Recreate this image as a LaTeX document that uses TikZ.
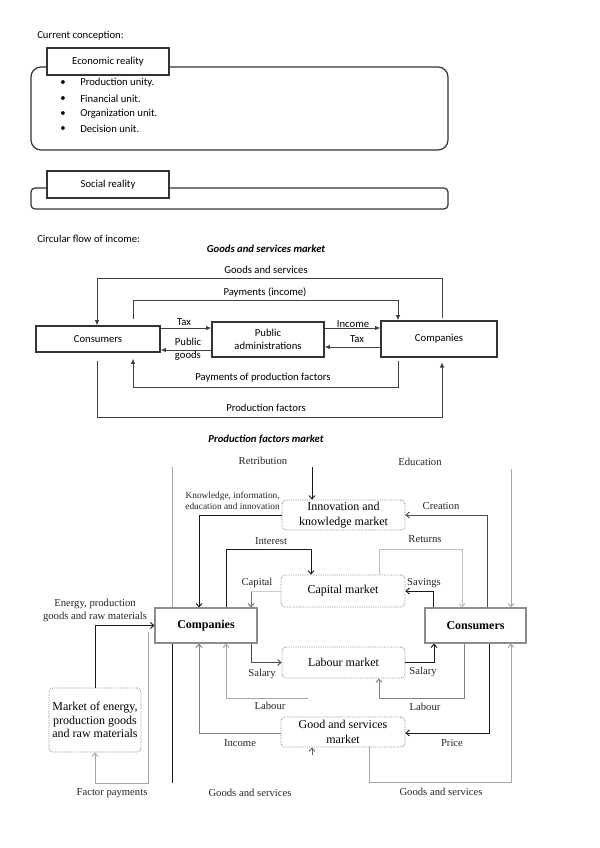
\documentclass[tikz,border=0pt]{standalone}
\usepackage{fontspec}
\setmainfont{Liberation Serif}
\newfontfamily\calib{Carlito}
\usetikzlibrary{arrows.meta}
\begin{document}
\begin{tikzpicture}[x=0.75pt,y=-0.75pt,
  ctext/.style={font=\calib\fontsize{8}{9.6}\selectfont, inner sep=0pt},
  ctitle/.style={font=\calib\bfseries\itshape\fontsize{8}{9.6}\selectfont, inner sep=0pt},
  cbox/.style={draw=black!80, line width=0.9pt, fill=white, font=\calib\fontsize{8}{9.6}\selectfont, inner sep=0pt, align=center},
  frame/.style={draw=black!80, line width=0.9pt},
  carr/.style={draw=black!75, line width=0.75pt, -{Latex[length=4pt,width=3.5pt]}},
  tlab/.style={font=\fontsize{8}{9.4}\selectfont, inner sep=0pt, text=black!85},
  klab/.style={font=\fontsize{7}{8.6}\selectfont, inner sep=0pt, text=black!85, align=right},
  tbox/.style={draw=black!45, line width=0.8pt, fill=white, font=\bfseries\fontsize{9}{11}\selectfont, inner sep=0pt},
  mbox/.style={draw=black!45, dash pattern=on 0.8pt off 0.9pt, line width=0.6pt, rounded corners=3pt, font=\fontsize{9}{11}\selectfont, align=center, inner sep=0pt},
  darr/.style={draw=black!90, line width=0.7pt, -{Straight Barb[length=2.5pt,width=4.5pt]}},
  garr/.style={draw=black!35, line width=0.7pt, -{Straight Barb[length=2.5pt,width=4.5pt]}},
  dline/.style={draw=black!90, line width=0.7pt},
  gline/.style={draw=black!35, line width=0.7pt}
]
\fill[white] (0,0) rectangle (599,848);
\useasboundingbox (0,0) rectangle (599,848);

% ---------- Current conception ----------
\node[ctext, anchor=west] (cc) at (37,36) {Current conception:};
\draw[frame, rounded corners=7.5pt] (31,67) rectangle (448,150);
\node[cbox, minimum width=91.5pt, minimum height=20.25pt] (econ) at (108,61.5) {Economic reality};
\foreach \y/\t [count=\i] in {83/Production unity., 99/Financial unit., 114/Organization unit., 129/Decision unit.}{
  \node[ctext] (bul\i) at (63,\y) {\textbullet};
  \node[ctext, anchor=west] (item\i) at (80,\y) {\t};
}
\draw[frame, rounded corners=3pt] (31,188) rectangle (448,209);
\node[cbox, minimum width=91.5pt, minimum height=20.25pt] (social) at (108,184.5) {Social reality};

% ---------- Circular flow ----------
\node[ctext, anchor=west] (cfi) at (37,239) {Circular flow of income:};
\node[ctitle] (gsm) at (266,249) {Goods and services market};
\node[ctitle] (pfm) at (266,439) {Production factors market};

\node[cbox, minimum width=93pt, minimum height=19.5pt] (cons) at (98,339) {Consumers};
\node[cbox, minimum width=84pt, minimum height=26.25pt] (pub) at (268,339.5) {Public\\administrations};
\node[cbox, minimum width=87pt, minimum height=27pt] (comp) at (439,339) {Companies};

\coordinate (gsL) at (97,279); \coordinate (gsR) at (442,279);
\draw[carr, shorten <=1.5pt] (gsR |- comp.north) -- (gsR) -- (gsL) -- (gsL |- cons.north);
\coordinate (payL) at (133,300); \coordinate (payR) at (398,300);
\draw[carr, shorten <=4.5pt] (payL |- cons.north) -- (payL) -- (payR) -- (payR |- comp.north);
\draw[carr] (cons.east |- 0,328) -- (pub.west |- 0,328);
\draw[carr] (pub.west |- 0,350) -- (cons.east |- 0,350);
\draw[carr] (pub.east |- 0,328) -- (comp.west |- 0,328);
\draw[carr] (comp.west |- 0,347) -- (pub.east |- 0,347);
\coordinate (ppfL) at (133,387); \coordinate (ppfR) at (398,387);
\draw[carr, shorten <=2.25pt, shorten >=4.5pt] (ppfR |- comp.south) -- (ppfR) -- (ppfL) -- (ppfL |- cons.south);
\coordinate (pfL) at (97,417); \coordinate (pfR) at (442,417);
\draw[carr, shorten <=6pt, shorten >=3.5pt] (pfL |- cons.south) -- (pfL) -- (pfR) -- (pfR |- comp.south);

\node[ctext] (lgs) at (266,270) {Goods and services};
\node[ctext] (lpay) at (265,292) {Payments (income)};
\node[ctext] (ltax1) at (184,322) {Tax};
\node[ctext, align=left] (lpg) at (188,349.5) {Public\\goods};
\node[ctext] (linc) at (353,324) {Income};
\node[ctext] (ltax2) at (357,339) {Tax};
\node[ctext] (lppf) at (263,378) {Payments of production factors};
\node[ctext] (lpf) at (266,408) {Production factors};

% ---------- Markets diagram ----------
\node[tbox, minimum width=76.5pt, minimum height=26.25pt] (comp2) at (206,625.5) {Companies};
\node[tbox, minimum width=75.75pt, minimum height=26.25pt] (cons2) at (475.5,625.5) {Consumers};
\node[mbox, minimum width=92.25pt, minimum height=22.5pt] (innov) at (343.5,515) {Innovation and\\knowledge market};
\node[mbox, minimum width=93pt, minimum height=24pt] (capm) at (343,591) {Capital market};
\node[mbox, minimum width=92.25pt, minimum height=23.25pt] (labm) at (343.5,662.5) {Labour market};
\node[mbox, minimum width=93pt, minimum height=22.5pt] (goodm) at (343,732) {Good and services\\market};
\node[mbox, minimum width=69pt, minimum height=48pt, font=\fontsize{9}{10}\selectfont] (energy) at (95,720) {Market of energy,\\production goods\\and raw materials};

% vertical line through Companies
\draw[gline] (172,467) -- (172,0 |- comp2.north);
\draw[dline] (172,0 |- comp2.south) -- (172,783);

% Retribution
\coordinate (retTop) at (312,467);
\draw[darr] (retTop) -- (retTop |- innov.north);
% Knowledge
\draw[darr] (innov.west) -| (199,0 |- comp2.north);
% Interest
\draw[darr] (226,0 |- comp2.north) |- (311,549) -- (311,0 |- capm.north);
% Capital
\draw[gline, draw=black!20] (capm.west) -- (251,591);
\draw[garr, draw=black!55] (251,592) -- (251,0 |- comp2.north);
% Energy
\draw[darr] (energy.north) |- (comp2.west);
% Factor payments
\coordinate (fpStart) at (148,632);
\draw[garr] (fpStart) |- (95,783) -- (energy.south);
% Salary (left)
\draw[darr, draw=black!70] (251,0 |- comp2.south) |- (labm.west);
% Labour (left)
\coordinate (labStart) at (308,698);
\draw[garr] (labStart) -| (226,0 |- comp2.south);
% Income
\draw[garr, draw=black!50] (goodm.west |- 0,733) -| (199,0 |- comp2.south);
% Goods and services (left) arrow tip
\draw[darr, draw=black!60] (312,755) -- (312,0 |- goodm.south);
% Education
\draw[garr] (511,469) -- (511,0 |- cons2.north);
% Creation
\draw[darr, draw=black!70] (487,0 |- cons2.north) |- (innov.east);
% Returns
\draw[garr, draw=black!25] (379,0 |- capm.north) |- (462,549) -- (462,0 |- cons2.north);
% Savings
\draw[darr] (433,0 |- cons2.north) |- (capm.east);
% Salary (right)
\draw[darr] (labm.east) -| (434,0 |- cons2.south);
% Labour (right)
\draw[garr, draw=black!50] (464,0 |- cons2.south) |- (379,698) -- (379,0 |- labm.south);
% Price
\draw[darr] (489,0 |- cons2.south) |- (goodm.east |- 0,733);
% Goods and services (right)
\draw[garr] (369,0 |- goodm.south) |- (511,782) -- (511,0 |- cons2.south);

% labels
\node[tlab] (lret) at (263,461) {Retribution};
\node[tlab] (ledu) at (420,462) {Education};
\node[klab, anchor=east] (lknow) at (280,501) {Knowledge, information,\\education and innovation};
\node[tlab] (lcre) at (441,506) {Creation};
\node[tlab] (lint) at (271,541) {Interest};
\node[tlab] (lretu) at (425,539) {Returns};
\node[tlab] (lcap) at (257,583) {Capital};
\node[tlab] (lsav) at (424,583) {Savings};
\node[tlab, align=center] (lene) at (95,610.5) {Energy, production\\goods and raw materials};
\node[tlab] (lsal1) at (262,674) {Salary};
\node[tlab] (lsal2) at (423,672) {Salary};
\node[tlab] (llab1) at (270,706) {Labour};
\node[tlab] (llab2) at (425,707) {Labour};
\node[tlab] (linc2) at (240,743) {Income};
\node[tlab] (lpri) at (452,743) {Price};
\node[tlab] (lfp) at (112,793) {Factor payments};
\node[tlab] (lgs1) at (250,793) {Goods and services};
\node[tlab] (lgs2) at (441,792) {Goods and services};
\end{tikzpicture}
\end{document}
